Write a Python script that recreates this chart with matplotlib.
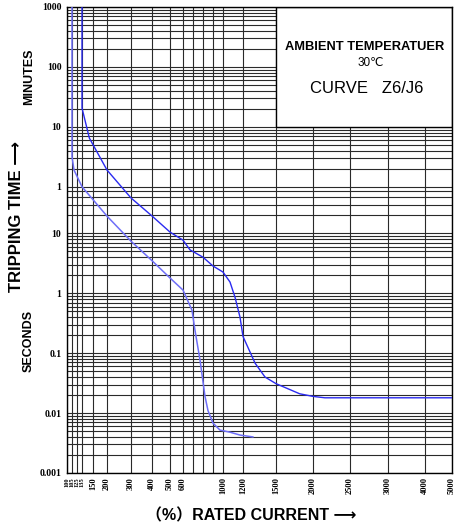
import numpy as np
import matplotlib
matplotlib.use("Agg")
import matplotlib.pyplot as plt
from matplotlib.patches import Rectangle
from matplotlib.ticker import FixedLocator, NullFormatter

# ---------------- data ----------------
x_tick_values = [100, 105, 125, 135, 150, 200, 300, 400, 500, 600, 1000, 1200,
                 1500, 2000, 2500, 3000, 4000, 5000]
x_tick_labels = [str(v) for v in x_tick_values]
x_minor_values = [700, 800, 900]

y_tick_values = [0.001, 0.01, 0.1, 1, 10, 60, 600, 6000, 60000]   # seconds
y_tick_labels = ["0.001", "0.01", "0.1", "1", "10", "1", "10", "100", "1000"]

lower_x = [105, 105, 113, 135, 200, 300, 400, 500, 600, 690, 720, 770, 820,
           850, 900, 970, 1070, 1170, 1290]
lower_t = [60000, 190, 114, 60, 19.4, 7.4, 3.5, 1.8, 1.13, 0.52, 0.24, 0.077,
           0.019, 0.011, 0.0068, 0.0052, 0.0048, 0.0043, 0.0040]

upper_x = [135, 135, 145, 200, 300, 400, 500, 600, 670, 800, 900, 1000, 1070,
           1120, 1170, 1200, 1310, 1400, 1500, 1820, 2000, 2160, 5000]
upper_t = [60000, 1236, 390, 114, 39, 19.5, 10.5, 7.7, 5.3, 4.0, 2.85, 2.26,
           1.54, 0.86, 0.40, 0.19, 0.068, 0.040, 0.031, 0.021, 0.019, 0.018, 0.018]

# ---------------- custom (non-uniform) current scale ----------------
_scale_vals = np.array([100, 105, 125, 135, 150, 200, 300, 400, 500, 600, 700, 800,
                        900, 1000, 1200, 1500, 2000, 2500, 3000, 4000, 5000], float)
_scale_pos = np.array([0, 5, 10, 15, 26, 40, 64, 85, 103, 116, 126, 136, 146, 156,
                       176, 209, 246, 283, 321, 358, 385], float)

def fwd(x):
    return np.interp(np.asarray(x, float), _scale_vals, _scale_pos)

def inv(p):
    return np.interp(np.asarray(p, float), _scale_pos, _scale_vals)

# ---------------- figure ----------------
W, H = 461, 526
fig = plt.figure(figsize=(W / 100, H / 100), dpi=100)
ax = fig.add_axes([67 / W, (H - 473) / H, 385 / W, 466 / H])

ax.set_xscale("function", functions=(fwd, inv))
ax.set_yscale("log")
ax.set_xlim(100, 5000)
ax.set_ylim(0.001, 60000)

# horizontal grid lines (log minors in seconds below 10 s, in minutes above 1 min)
hgrid = []
for d in [-3, -2, -1, 0]:
    hgrid += [k * 10.0 ** d for k in range(2, 10)]
hgrid += [20, 30, 40, 50]
for d in [0, 1, 2]:
    hgrid += [60 * k * 10.0 ** d for k in range(2, 10)]

ax.xaxis.set_major_locator(FixedLocator(x_tick_values))
ax.xaxis.set_minor_locator(FixedLocator(x_minor_values))
ax.set_xticklabels(x_tick_labels)
ax.xaxis.set_minor_formatter(NullFormatter())
ax.yaxis.set_major_locator(FixedLocator(y_tick_values))
ax.yaxis.set_minor_locator(FixedLocator(hgrid))
ax.set_yticklabels(y_tick_labels)
ax.yaxis.set_minor_formatter(NullFormatter())

ax.grid(True, which="both", color="#2a2a2a", linewidth=0.8)
ax.set_axisbelow(True)
ax.tick_params(which="both", length=0)
ax.tick_params(axis="x", pad=3)
ax.tick_params(axis="y", pad=4)
for i, lab in enumerate(ax.get_xticklabels()):
    lab.set_rotation(90)
    lab.set_fontfamily("Liberation Serif")
    lab.set_fontsize(4.6 if i < 4 else 6.0)
    lab.set_fontweight("bold")
    lab.set_va("top")
    lab.set_ha("center")
for lab in ax.get_yticklabels():
    lab.set_fontfamily("Liberation Serif")
    lab.set_fontsize(7)
    lab.set_fontweight("bold")
for s in ax.spines.values():
    s.set_color("black")
    s.set_linewidth(1.0)

# curves
ax.plot(lower_x, lower_t, color="#6f6ff8", linewidth=1.1, zorder=3)
ax.plot(upper_x, upper_t, color="#2a2af0", linewidth=1.0, zorder=3)

# info box
ax.add_patch(Rectangle((1500, 600), 5000 - 1500, 60000 - 600, facecolor="white",
                       edgecolor="black", linewidth=1.0, zorder=2.5))
sans = ["Liberation Sans", "DejaVu Sans", "Noto Sans CJK SC"]
ax.text(0.774, 0.915, "AMBIENT TEMPERATUER", transform=ax.transAxes, ha="center",
        va="center", fontsize=9.3, fontweight="bold", family=sans, zorder=4)
ax.text(0.789, 0.880, "30\u2103", transform=ax.transAxes, ha="center",
        va="center", fontsize=8.5, family=sans, zorder=4)
ax.text(0.778, 0.826, "CURVE   Z6/J6", transform=ax.transAxes, ha="center",
        va="center", fontsize=12, family=sans, zorder=4)

# axis titles
fig.text(17 / W, 1 - 216 / H, "TRIPPING TIME \u27f6", rotation=90, ha="center",
         va="center", fontsize=12, fontweight="bold", family=sans)
fig.text(29 / W, 1 - 77 / H, "MINUTES", rotation=90, ha="center", va="center",
         fontsize=9, fontweight="bold", family=sans)
fig.text(29 / W, 1 - 341 / H, "SECONDS", rotation=90, ha="center", va="center",
         fontsize=9, fontweight="bold", family=sans)
fig.text(251 / W, 1 - 516 / H, "\uff08%\uff09RATED CURRENT \u27f6", ha="center",
         va="center", fontsize=11.5, fontweight="bold",
         family=["Liberation Sans", "Noto Sans CJK SC", "DejaVu Sans"])

fig.savefig("out.png", dpi=100, facecolor="white")
